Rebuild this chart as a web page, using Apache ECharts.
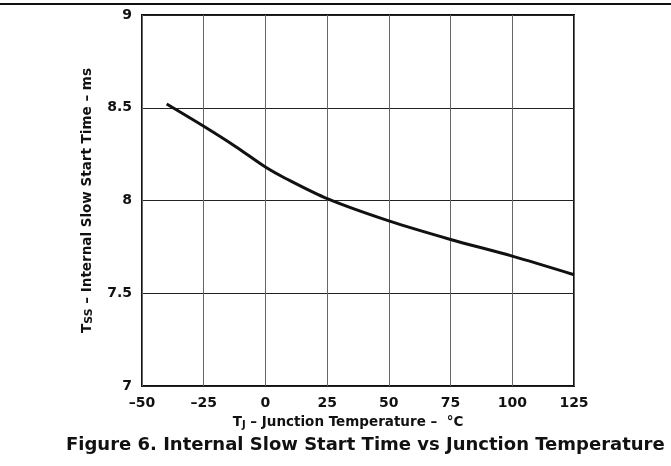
<!DOCTYPE html>
<html>
<head>
<meta charset="utf-8">
<script src="https://cdn.jsdelivr.net/npm/echarts@6/dist/echarts.min.js"></script>
<style>
  html, body { margin: 0; padding: 0; background: #fff; }
  #chart { width: 671px; height: 466px; }
</style>
</head>
<body>
<div id="chart"></div>
<script>
// junction temperature (°C) and slow start time (ms)
var tempC = [-40, -25, -12, 0, 8, 25, 50, 75, 100, 125];
var tssMs = [8.52, 8.40, 8.29, 8.18, 8.12, 8.01, 7.89, 7.79, 7.70, 7.60];
var xTicks = [-50, -25, 0, 25, 50, 75, 100, 125];
var yTicks = [7, 7.5, 8, 8.5, 9];

var font = '"DejaVu Sans", sans-serif';
var chart = echarts.init(document.getElementById('chart'));

var option = {
    animation: false,
    textStyle: { fontFamily: font },
    grid: {
        left: 142, right: 97, top: 15, bottom: 80,
        show: true, borderColor: '#111', borderWidth: 2
    },
    xAxis: {
        type: 'value',
        min: xTicks[0], max: xTicks[xTicks.length - 1], interval: 25,
        axisLine: { show: false },
        axisTick: { show: false },
        axisLabel: {
            margin: 10, color: '#111', fontSize: 14, fontWeight: 'bold', fontFamily: font,
            formatter: function (v) { return v < 0 ? '\u2013' + Math.abs(v) : String(v); }
        },
        splitLine: { lineStyle: { color: '#666', width: 1 } },
        name: '{t|T}{s|J}{t| \u2013 Junction Temperature \u2013  °C}',
        nameLocation: 'middle',
        nameGap: 28,
        nameTextStyle: {
            padding: [0, 20, 0, 0],
            rich: {
                t: { fontSize: 13.5, fontWeight: 'bold', color: '#111', fontFamily: font },
                s: { fontSize: 10, fontWeight: 'bold', color: '#111', fontFamily: font, padding: [6, 0, 0, 0] }
            }
        }
    },
    yAxis: {
        type: 'value',
        min: yTicks[0], max: yTicks[yTicks.length - 1], interval: 0.5,
        axisLine: { show: false },
        axisTick: { show: false },
        axisLabel: {
            margin: 10, color: '#111', fontSize: 14, fontWeight: 'bold', fontFamily: font,
            formatter: function (v) { return String(v); }
        },
        splitLine: { lineStyle: { color: '#222', width: 1 } },
        name: '{t|T}{s|SS}{t| \u2013 Internal Slow Start Time \u2013 ms}',
        nameLocation: 'middle',
        nameGap: 47,
        nameTextStyle: {
            rich: {
                t: { fontSize: 13.5, fontWeight: 'bold', color: '#111', fontFamily: font },
                s: { fontSize: 11, fontWeight: 'bold', color: '#111', fontFamily: font, padding: [4, 0, 0, 0] }
            }
        }
    },
    graphic: [
        {
            type: 'line',
            shape: { x1: 0, y1: 4, x2: 671, y2: 4 },
            style: { stroke: '#111', lineWidth: 2 }
        },
        {
            type: 'text',
            left: 66,
            top: 436,
            style: {
                text: 'Figure 6. Internal Slow Start Time vs Junction Temperature',
                fill: '#111',
                font: 'bold 18px ' + font
            }
        }
    ],
    series: [{
        type: 'line',
        data: tempC.map(function (t, i) { return [t, tssMs[i]]; }),
        smooth: 0.3,
        showSymbol: false,
        lineStyle: { color: '#111', width: 3 }
    }]
};
chart.setOption(option);
</script>
</body>
</html>
